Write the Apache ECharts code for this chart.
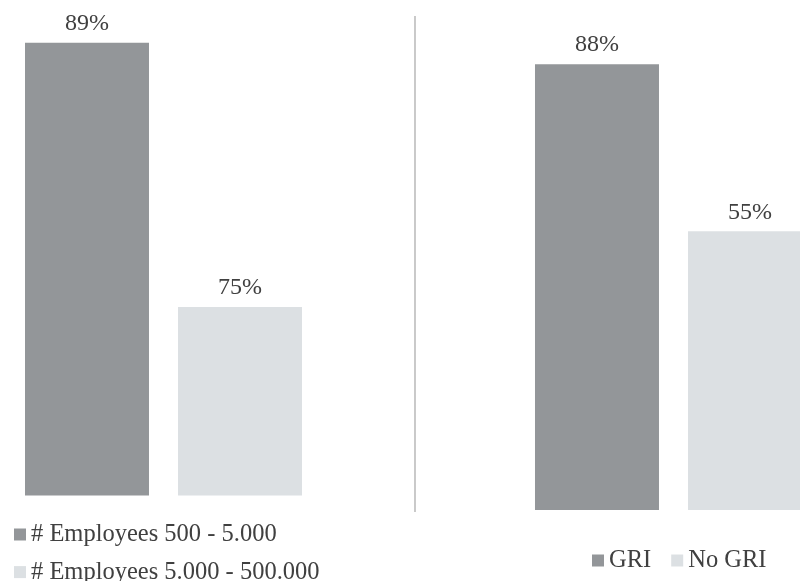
<!DOCTYPE html>
<html>
<head>
<meta charset="utf-8">
<script src="https://cdn.jsdelivr.net/npm/echarts@6/dist/echarts.min.js"></script>
<style>
  html, body { margin: 0; padding: 0; background: #ffffff; }
  #chart { width: 800px; height: 581px; }
</style>
</head>
<body>
<div id="chart"></div>
<script>
// Share of companies (%), split by company size and by GRI reporting
const sizeCategories = [''];
const sizeSmall = [89];   // # Employees 500 - 5.000
const sizeLarge = [75];   // # Employees 5.000 - 500.000

const griCategories = [''];
const griYes = [88];      // GRI
const griNo = [55];       // No GRI

const sizeNames = ['# Employees 500 - 5.000', '# Employees 5.000 - 500.000'];
const griNames = ['GRI', 'No GRI'];

const DARK = '#939699';
const LIGHT = '#dce0e3';
const TEXT = '#404040';
const FONT = "'Liberation Serif', 'Times New Roman', serif";

const labelStyle = {
  show: true,
  position: 'top',
  distance: 7,
  color: TEXT,
  fontFamily: FONT,
  fontSize: 24,
  formatter: p => p.value + '%'
};

function bar(name, data, color, axisIndex) {
  return {
    name: name,
    type: 'bar',
    xAxisIndex: axisIndex,
    yAxisIndex: axisIndex,
    data: data,
    barWidth: 124,
    barGap: '23.4%',
    itemStyle: { color: color },
    label: labelStyle,
    emphasis: { disabled: true },
    silent: true
  };
}

const chart = echarts.init(document.getElementById('chart'), null, { renderer: 'canvas' });

chart.setOption({
  animation: false,
  backgroundColor: '#ffffff',
  textStyle: { fontFamily: FONT },
  grid: [
    { left: 25, top: 24, width: 277, height: 471.5, outerBoundsMode: 'none', containLabel: false },
    { left: 534, top: 54, width: 279, height: 456, outerBoundsMode: 'none', containLabel: false }
  ],
  xAxis: [
    { gridIndex: 0, type: 'category', data: sizeCategories, show: false },
    { gridIndex: 1, type: 'category', data: griCategories, show: false }
  ],
  yAxis: [
    { gridIndex: 0, type: 'value', min: 65, max: 90, show: false },
    { gridIndex: 1, type: 'value', min: 0, max: 90, show: false }
  ],
  legend: [
    {
      data: sizeNames,
      orient: 'vertical',
      left: 14,
      top: 522,
      height: 70,
      padding: 0,
      itemWidth: 12,
      itemHeight: 12,
      itemGap: 12.6,
      icon: 'rect',
      selectedMode: false,
      textStyle: { color: TEXT, fontFamily: FONT, fontSize: 24.5, lineHeight: 24 }
    },
    {
      data: griNames,
      orient: 'horizontal',
      left: 592,
      top: 548,
      padding: 0,
      itemWidth: 12,
      itemHeight: 12,
      itemGap: 20,
      icon: 'rect',
      selectedMode: false,
      textStyle: { color: TEXT, fontFamily: FONT, fontSize: 24.5, lineHeight: 24 }
    }
  ],
  graphic: [
    {
      type: 'line',
      shape: { x1: 415, y1: 16, x2: 415, y2: 512 },
      style: { stroke: '#a6a6a6', lineWidth: 1.2 },
      silent: true
    }
  ],
  series: [
    bar(sizeNames[0], sizeSmall, DARK, 0),
    bar(sizeNames[1], sizeLarge, LIGHT, 0),
    bar(griNames[0], griYes, DARK, 1),
    bar(griNames[1], griNo, LIGHT, 1)
  ]
});
</script>
</body>
</html>
